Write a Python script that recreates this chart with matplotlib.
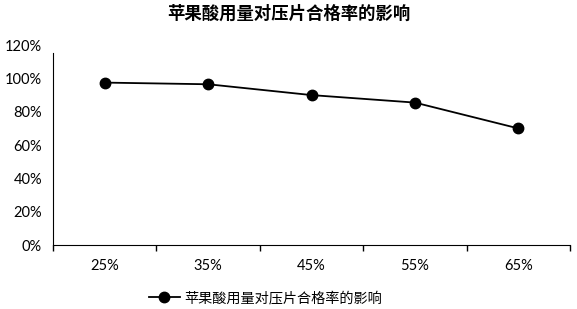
import matplotlib
matplotlib.use("Agg")
import matplotlib.pyplot as plt
from matplotlib.ticker import FuncFormatter, FixedLocator

plt.rcParams['font.family'] = ['Lato', 'Noto Sans CJK SC', 'DejaVu Sans']

# data
categories = ['25%', '35%', '45%', '55%', '65%']
pass_rate = [0.975, 0.965, 0.90, 0.855, 0.70]
series_name = '苹果酸用量对压片合格率的影响'
title = '苹果酸用量对压片合格率的影响'

fig = plt.figure(figsize=(5.77, 3.09), dpi=100)
ax = fig.add_axes([0.092, 0.207, 0.896, 0.647])

x = list(range(len(categories)))
ax.plot(x, pass_rate, color='black', linewidth=1.3, marker='o', markersize=7.5,
        label=series_name)

ax.set_xlim(-0.5, len(categories) - 0.5)
ax.set_ylim(0, 1.2)
ax.set_yticks([0, 0.2, 0.4, 0.6, 0.8, 1.0, 1.2])
ax.yaxis.set_major_formatter(FuncFormatter(lambda v, p: f'{v * 100:.0f}%'))
ax.tick_params(axis='y', length=0, pad=8, labelsize=10.5)

# category labels between boundary ticks, Excel style
ax.set_xticks(x)
ax.set_xticklabels(categories)
ax.tick_params(axis='x', which='major', length=0, pad=10, labelsize=10.5)
ax.xaxis.set_minor_locator(FixedLocator([i - 0.5 for i in range(len(categories) + 1)]))
ax.tick_params(axis='x', which='minor', length=4, width=1, direction='out', color='black')

for s in ['top', 'right']:
    ax.spines[s].set_visible(False)
ax.spines['left'].set_color('black')
ax.spines['bottom'].set_color('black')
ax.spines['left'].set_bounds(0, 1.15)

fig.text(0.5, 0.955, title, ha='center', va='center', fontsize=12.5,
         fontweight='bold', family=['Noto Sans CJK SC', 'DejaVu Sans'])

fig.legend(loc='center', bbox_to_anchor=(0.46, 0.035), frameon=False,
           prop={'family': ['Noto Sans CJK SC', 'DejaVu Sans'], 'size': 10.2},
           handlelength=2.2, handletextpad=0.3)

fig.savefig('out.png', dpi=100)
